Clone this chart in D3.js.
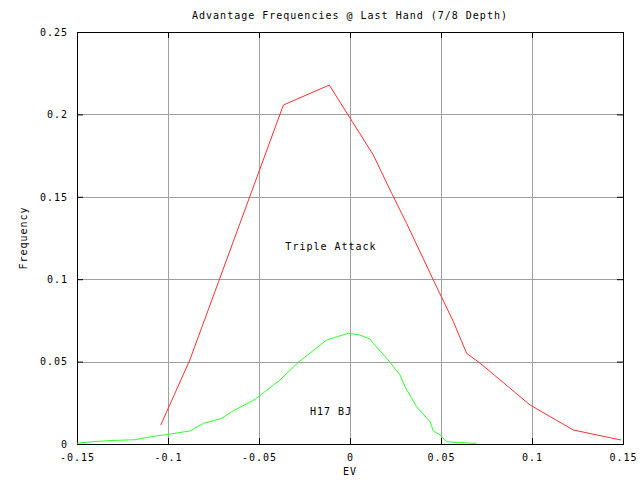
<!DOCTYPE html>
<html><head><meta charset="utf-8">
<script src="https://cdn.jsdelivr.net/npm/d3@7"></script>
<style>body{margin:0;background:#fff}text{font-family:"DejaVu Sans Mono",monospace;font-size:10px;fill:#000;letter-spacing:1px}</style>
</head><body>
<script>
const title = "Advantage Frequencies @ Last Hand (7/8 Depth)";
const xTicks = [-0.15,-0.1,-0.05,0,0.05,0.1,0.15];
const xTickLabels = ["-0.15","-0.1","-0.05","0","0.05","0.1","0.15"];
const yTicks = [0,0.05,0.1,0.15,0.2,0.25];
const yTickLabels = ["0","0.05","0.1","0.15","0.2","0.25"];
const tripleEV   = [-0.104,-0.088,-0.0366,-0.0114,0.0128,0.0229,0.0311,0.0458,0.0568,0.0641,0.0715,0.0989,0.1227,0.149];
const tripleFreq = [0.0115,0.051,0.2057,0.2178,0.1754,0.1521,0.1339,0.0995,0.0742,0.055,0.049,0.0237,0.0085,0.0024];
const bjEV   = [-0.15,-0.139,-0.129,-0.118,-0.1117,-0.0998,-0.0879,-0.0806,-0.0705,-0.065,-0.0522,-0.0385,-0.0284,-0.0128,-0.0009,0.0055,0.011,0.0128,0.0202,0.0275,0.0302,0.0366,0.044,0.0458,0.0495,0.0531,0.0577,0.0696];
const bjFreq = [0.0005,0.0016,0.0022,0.0026,0.004,0.0059,0.0079,0.0125,0.0156,0.0196,0.0271,0.0388,0.0496,0.0631,0.0672,0.0661,0.0637,0.0611,0.052,0.0419,0.0348,0.0226,0.0135,0.0079,0.0055,0.0014,0.001,0.0004];
const seriesNames = ["Triple Attack","H17 BJ"];

const W=640,H=480, L=77, R=623, T=32, B=444;
const svg=d3.select("body").append("svg").attr("width",W).attr("height",H);
const x=d3.scaleLinear().domain([-0.15,0.15]).range([L,R]);
const y=d3.scaleLinear().domain([0,0.25]).range([B,T]);

// grid
svg.append("g").selectAll("line").data(xTicks.slice(1,-1)).join("line")
  .attr("x1",d=>Math.round(x(d))+0.5).attr("x2",d=>Math.round(x(d))+0.5).attr("y1",T).attr("y2",B)
  .attr("stroke","#a0a0a0");
svg.append("g").selectAll("line").data(yTicks.slice(1,-1)).join("line")
  .attr("y1",d=>Math.round(y(d))+0.5).attr("y2",d=>Math.round(y(d))+0.5).attr("x1",L).attr("x2",R)
  .attr("stroke","#a0a0a0");

// axes
const xb=d3.axisBottom(x).tickValues(xTicks).tickFormat((d,i)=>xTickLabels[i]).tickSize(-6).tickPadding(10);
const xt=d3.axisTop(x).tickValues(xTicks).tickFormat("").tickSize(-6);
const yl=d3.axisLeft(y).tickValues(yTicks).tickFormat((d,i)=>yTickLabels[i]).tickSize(-6).tickPadding(9);
const yr=d3.axisRight(y).tickValues(yTicks).tickFormat("").tickSize(-6);
function style(g){g.select(".domain").remove();g.selectAll("line").attr("stroke","#000");g.selectAll("text").attr("font-family","DejaVu Sans Mono, monospace").attr("font-size",10).attr("fill","#000");}
svg.append("g").attr("transform",`translate(0,${B})`).call(xb).call(style);
svg.append("g").attr("transform",`translate(0,${T})`).call(xt).call(style);
svg.append("g").attr("transform",`translate(${L},0)`).call(yl).call(style);
svg.append("g").attr("transform",`translate(${R},0)`).call(yr).call(style);
svg.append("rect").attr("x",L+0.5).attr("y",T+0.5).attr("width",R-L).attr("height",B-T).attr("fill","none").attr("stroke","#000");

// lines
const line=d3.line().x(d=>x(d[0])).y(d=>y(d[1]));
svg.append("path").datum(tripleEV.map((v,i)=>[v,tripleFreq[i]])).attr("d",line)
  .attr("fill","none").attr("stroke","#ff3030").attr("stroke-width",1);
svg.append("path").datum(bjEV.map((v,i)=>[v,bjFreq[i]])).attr("d",line)
  .attr("fill","none").attr("stroke","#30ff30").attr("stroke-width",1);

// labels
svg.append("text").attr("x",331).attr("y",250).attr("text-anchor","middle").text(seriesNames[0]);
svg.append("text").attr("x",331).attr("y",415).attr("text-anchor","middle").text(seriesNames[1]);
svg.append("text").attr("x",350).attr("y",19).attr("text-anchor","middle").text(title);
svg.append("text").attr("x",350).attr("y",475).attr("text-anchor","middle").text("EV");
svg.append("text").attr("transform","translate(27,238) rotate(-90)").attr("text-anchor","middle").text("Frequency");
</script>
</body></html>
